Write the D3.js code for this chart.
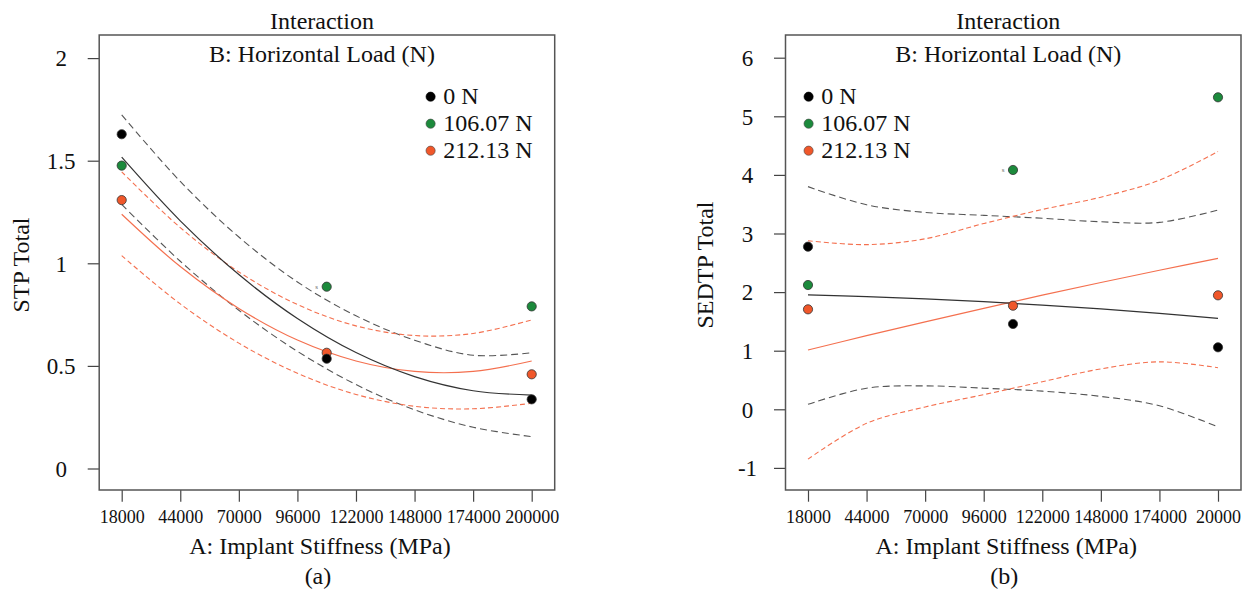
<!DOCTYPE html>
<html>
<head>
<meta charset="utf-8">
<script src="https://cdn.jsdelivr.net/npm/d3@7"></script>
<style>
  body { margin: 0; background: #fff; }
  svg text { font-family: "Liberation Serif", "DejaVu Serif", "Noto Serif", serif; fill: #111; }
</style>
</head>
<body>
<div id="chart"></div>
<script>
// A: implant stiffness (MPa), tick values and design points
var tickValues = [18000, 44000, 70000, 96000, 122000, 148000, 174000, 200000];
var tickLabelsA = ["18000", "44000", "70000", "96000", "122000", "148000", "174000", "200000"];
var tickLabelsB = ["18000", "44000", "70000", "96000", "122000", "148000", "174000", "20000"];
var designPoints = [18000, 109000, 200000];
var loadLabels = ["0 N", "106.07 N", "212.13 N"];
var loadColors = ["#000000", "#1c8a3c", "#f0572a"];

// (a) STP Total - observed points
var stp0 = [1.629, 0.535, 0.337];
var stp106 = [1.476, 0.886, 0.790];
var stp212 = [1.308, 0.564, 0.459];
// (a) fitted lines + 95% bands read at the tick values
var stpFit0 = [1.517, 1.207, 0.945, 0.731, 0.565, 0.448, 0.379, 0.358];
var stpHi0 = [1.723, 1.399, 1.128, 0.909, 0.744, 0.625, 0.552, 0.564];
var stpLo0 = [1.287, 1.010, 0.771, 0.571, 0.409, 0.286, 0.201, 0.155];
var stpFit212 = [1.239, 0.984, 0.780, 0.626, 0.524, 0.473, 0.473, 0.524];
var stpHi212 = [1.446, 1.174, 0.958, 0.799, 0.695, 0.648, 0.658, 0.724];
var stpLo212 = [1.037, 0.802, 0.611, 0.464, 0.361, 0.303, 0.291, 0.318];

// (b) SEDTP Total - observed points
var sedtp0 = [2.775, 1.456, 1.058];
var sedtp106 = [2.121, 4.084, 5.324];
var sedtp212 = [1.706, 1.768, 1.945];
// (b) fitted lines + 95% bands read at the tick values
var sedFit0 = [1.951, 1.922, 1.884, 1.836, 1.779, 1.713, 1.638, 1.553];
var sedHi0 = [3.80, 3.49, 3.36, 3.31, 3.26, 3.20, 3.19, 3.40];
var sedLo0 = [0.085, 0.36, 0.40, 0.36, 0.31, 0.22, 0.06, -0.30];
var sedFit212 = [1.012, 1.256, 1.493, 1.723, 1.947, 2.164, 2.373, 2.577];
var sedHi212 = [2.877, 2.81, 2.91, 3.17, 3.41, 3.62, 3.91, 4.40];
var sedLo212 = [-0.85, -0.24, 0.04, 0.25, 0.47, 0.69, 0.81, 0.71];

var svgWidth = 1254, svgHeight = 593;

var svg = d3.select("#chart").append("svg")
  .attr("width", svgWidth)
  .attr("height", svgHeight);

function drawPanel(cfg) {
  var x = d3.scaleLinear().domain([18000, 200000]).range([cfg.x0, cfg.x1]);
  var y = d3.scaleLinear().domain(cfg.yDomain).range([cfg.yBottomVal, cfg.yTopVal]);

  var boxLeft = cfg.x0 - 22.5, boxRight = cfg.x1 + 23;
  var boxTop = 35, boxBottom = 490;
  var cx = (boxLeft + boxRight) / 2;

  var g = svg.append("g");

  // y axis
  var yAxis = g.append("g")
    .attr("transform", `translate(${boxLeft},0)`)
    .call(d3.axisLeft(y).tickValues(cfg.yTicks).tickSize(11.5).tickFormat(d => String(d)));
  yAxis.select(".domain").remove();
  yAxis.selectAll("line").attr("stroke", "#444").attr("stroke-width", 1.2);
  yAxis.selectAll("text")
    .attr("x", -38)
    .attr("dy", "0.34em")
    .attr("text-anchor", "middle")
    .attr("font-size", "23px");

  // x axis
  var xAxis = g.append("g")
    .attr("transform", `translate(0,${boxBottom})`)
    .call(d3.axisBottom(x).tickValues(tickValues).tickSize(11.7)
      .tickFormat((d, i) => cfg.xLabels[i]));
  xAxis.select(".domain").remove();
  xAxis.selectAll("line").attr("stroke", "#444").attr("stroke-width", 1.2);
  xAxis.selectAll("text")
    .attr("y", 33)
    .attr("dy", 0)
    .attr("font-size", "18px");

  // plot frame
  g.append("rect")
    .attr("x", boxLeft).attr("y", boxTop)
    .attr("width", boxRight - boxLeft).attr("height", boxBottom - boxTop)
    .attr("fill", "none")
    .attr("stroke", "#555")
    .attr("stroke-width", 1.5);

  // lines
  var line = d3.line()
    .x((d, i) => x(tickValues[i]))
    .y(d => y(d))
    .curve(d3.curveCatmullRom);

  var lines = [
    { v: cfg.hi0, color: "#555", dash: "7,4", w: 1.1 },
    { v: cfg.lo0, color: "#555", dash: "7,4", w: 1.1 },
    { v: cfg.hi212, color: "#f4704f", dash: "5,3", w: 1.1 },
    { v: cfg.lo212, color: "#f4704f", dash: "5,3", w: 1.1 },
    { v: cfg.fit212, color: "#f4704f", dash: null, w: 1.2 },
    { v: cfg.fit0, color: "#333", dash: null, w: 1.2 }
  ];
  lines.forEach(function(l) {
    g.append("path")
      .datum(l.v)
      .attr("d", line)
      .attr("fill", "none")
      .attr("stroke", l.color)
      .attr("stroke-width", l.w)
      .attr("stroke-dasharray", l.dash);
  });

  // observed points
  var series = [cfg.p106, cfg.p212, cfg.p0];
  var seriesColors = [loadColors[1], loadColors[2], loadColors[0]];
  series.forEach(function(s, k) {
    g.selectAll(null).data(s).enter().append("circle")
      .attr("cx", (d, i) => x(designPoints[i]))
      .attr("cy", d => y(d))
      .attr("r", 4.6)
      .attr("fill", seriesColors[k])
      .attr("stroke", "#333")
      .attr("stroke-width", 0.8);
  });

  // tiny label beside middle green point
  g.append("text")
    .attr("x", x(designPoints[1]) - 10)
    .attr("y", y(cfg.p106[1]) + 2)
    .attr("text-anchor", "middle")
    .attr("font-size", "7px")
    .style("fill", "#666")
    .text("s");

  // legend
  var legend = g.selectAll(".legend").data(loadLabels).enter().append("g");
  legend.append("circle")
    .attr("cx", cfg.legendX)
    .attr("cy", (d, i) => 96.7 + i * 27)
    .attr("r", 4.6)
    .attr("fill", (d, i) => loadColors[i])
    .attr("stroke", (d, i) => i == 0 ? "#000" : "#444")
    .attr("stroke-width", 0.6);
  legend.append("text")
    .attr("x", cfg.legendX + 12.7)
    .attr("y", (d, i) => 104 + i * 27)
    .attr("font-size", "24px")
    .text(d => d);

  // titles
  g.append("text")
    .attr("x", cx - 5).attr("y", 29)
    .attr("text-anchor", "middle")
    .attr("font-size", "24px")
    .text("Interaction");
  g.append("text")
    .attr("x", cx - 5).attr("y", 62)
    .attr("text-anchor", "middle")
    .attr("font-size", "24px")
    .text("B: Horizontal Load (N)");
  g.append("text")
    .attr("x", cx - 7).attr("y", 554)
    .attr("text-anchor", "middle")
    .attr("font-size", "24px")
    .text("A: Implant Stiffness (MPa)");
  g.append("text")
    .attr("x", cx - 9).attr("y", 584)
    .attr("text-anchor", "middle")
    .attr("font-size", "24px")
    .text(cfg.sub);
  g.append("text")
    .attr("transform", `translate(${cfg.yTitleX},265) rotate(-90)`)
    .attr("text-anchor", "middle")
    .attr("font-size", "24px")
    .text(cfg.yTitle);
}

// (a)
drawPanel({
  x0: 121.7, x1: 531.7,
  yDomain: [0, 2], yBottomVal: 468.5, yTopVal: 58.1,
  yTicks: [0, 0.5, 1, 1.5, 2],
  xLabels: tickLabelsA,
  p0: stp0, p106: stp106, p212: stp212,
  fit0: stpFit0, hi0: stpHi0, lo0: stpLo0,
  fit212: stpFit212, hi212: stpHi212, lo212: stpLo212,
  legendX: 430.6,
  yTitle: "STP Total", yTitleX: 28.7,
  sub: "(a)"
});

// (b)
drawPanel({
  x0: 808, x1: 1218,
  yDomain: [0, 6], yBottomVal: 409.3, yTopVal: 57.7,
  yTicks: [-1, 0, 1, 2, 3, 4, 5, 6],
  xLabels: tickLabelsB,
  p0: sedtp0, p106: sedtp106, p212: sedtp212,
  fit0: sedFit0, hi0: sedHi0, lo0: sedLo0,
  fit212: sedFit212, hi212: sedHi212, lo212: sedLo212,
  legendX: 808.6,
  yTitle: "SEDTP Total", yTitleX: 712.5,
  sub: "(b)"
});
</script>
</body>
</html>
